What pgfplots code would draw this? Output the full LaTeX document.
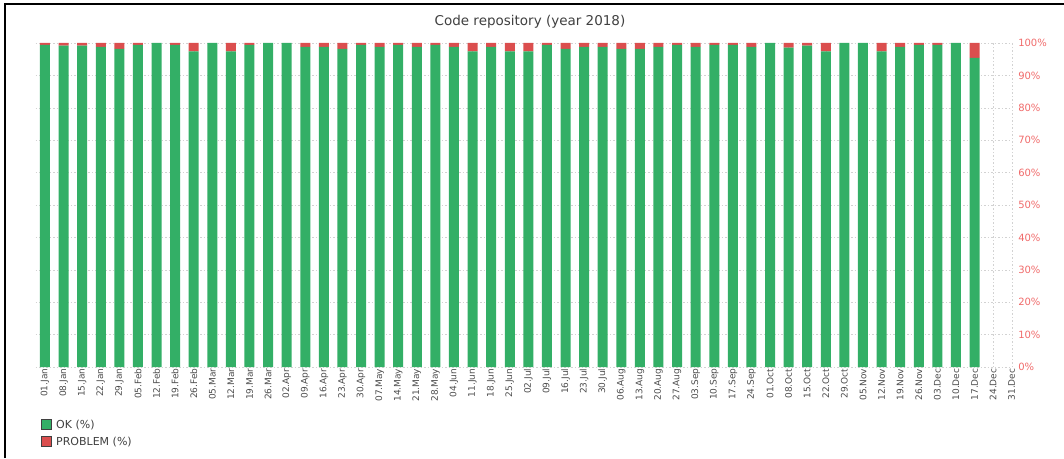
\documentclass[border=0pt]{standalone}
\usepackage{pgfplots}
\pgfplotsset{compat=1.18}
\usepackage{pgfplotstable}
\usepackage{fontspec}
\setmainfont{DejaVu Sans}
\definecolor{okgreen}{HTML}{33AF66}
\definecolor{probred}{HTML}{DB4E4E}
\definecolor{ylab}{HTML}{F06A6A}
\pgfplotstableread{
x ok prob
0 99.4 0.6
1 99.2 0.8
2 99.2 0.8
3 98.8 1.2
4 98.2 1.8
5 99.4 0.6
6 100 0
7 99.4 0.6
8 97.4 2.6
9 100 0
10 97.4 2.6
11 99.4 0.6
12 100 0
13 100 0
14 98.8 1.2
15 98.8 1.2
16 98.2 1.8
17 99.4 0.6
18 98.8 1.2
19 99.4 0.6
20 98.8 1.2
21 99.4 0.6
22 98.8 1.2
23 97.4 2.6
24 98.8 1.2
25 97.4 2.6
26 97.4 2.6
27 99.4 0.6
28 98.2 1.8
29 98.8 1.2
30 98.8 1.2
31 98.2 1.8
32 98.2 1.8
33 98.8 1.2
34 99.4 0.6
35 98.8 1.2
36 99.4 0.6
37 99.4 0.6
38 98.8 1.2
39 100 0
40 98.6 1.4
41 99.2 0.8
42 97.4 2.6
43 100 0
44 100 0
45 97.4 2.6
46 98.8 1.2
47 99.4 0.6
48 99.4 0.6
49 100 0
50 95.4 4.6
}\datatable
\begin{document}
\begin{tikzpicture}[x=1pt,y=1pt]
\useasboundingbox (0,0) rectangle (1064,458);
\draw[line width=2pt] (5,0) -- (5,454) -- (1064,454);
\node[font=\fontsize{13.5}{15}\selectfont, text=black!75] at (530,436) {Code repository (year 2018)};
\begin{axis}[
  at={(35.7pt,91pt)}, anchor=south west, scale only axis,
  width=976pt, height=324pt,
  xmin=-0.5, xmax=52, ymin=0, ymax=100,
  ybar stacked, bar width=10pt,
  axis line style={draw=none},
  major tick length=0pt,
  xtick={0,...,52},
  xticklabels={01.Jan,08.Jan,15.Jan,22.Jan,29.Jan,05.Feb,12.Feb,19.Feb,26.Feb,05.Mar,12.Mar,19.Mar,26.Mar,02.Apr,09.Apr,16.Apr,23.Apr,30.Apr,07.May,14.May,21.May,28.May,04.Jun,11.Jun,18.Jun,25.Jun,02.Jul,09.Jul,16.Jul,23.Jul,30.Jul,06.Aug,13.Aug,20.Aug,27.Aug,03.Sep,10.Sep,17.Sep,24.Sep,01.Oct,08.Oct,15.Oct,22.Oct,29.Oct,05.Nov,12.Nov,19.Nov,26.Nov,03.Dec,10.Dec,17.Dec,24.Dec,31.Dec},
  xticklabel style={rotate=90, anchor=east, font=\fontsize{9}{9}\selectfont, text=black!70, inner sep=1.5pt},
  ytick={0,10,...,100},
  yticklabel pos=right,
  yticklabel={\pgfmathprintnumber{\tick}\%},
  yticklabel style={text=ylab, font=\fontsize{10}{10}\selectfont, anchor=west, xshift=3pt},
  /pgf/number format/assume math mode=true,
  grid=major,
  major grid style={dash pattern=on 1.5pt off 2pt, color=gray!35},
  legend style={at={(0.005,-0.157)}, anchor=north west, draw=none, fill=none,
    font=\fontsize{11}{12}\selectfont, text=black!75, inner sep=0pt,
    row sep=3pt, cells={anchor=west}},
  legend image code/.code={\draw[#1, draw=black!75, line width=0.8pt] (0pt,-4.5pt) rectangle (10pt,5.5pt);\path (13pt,0pt);},
]
\addplot[fill=okgreen, draw=none] table[x=x, y=ok] {\datatable};
\addplot[fill=probred, draw=none] table[x=x, y=prob] {\datatable};
\legend{OK (\%), PROBLEM (\%)}
\end{axis}
\end{tikzpicture}
\end{document}
